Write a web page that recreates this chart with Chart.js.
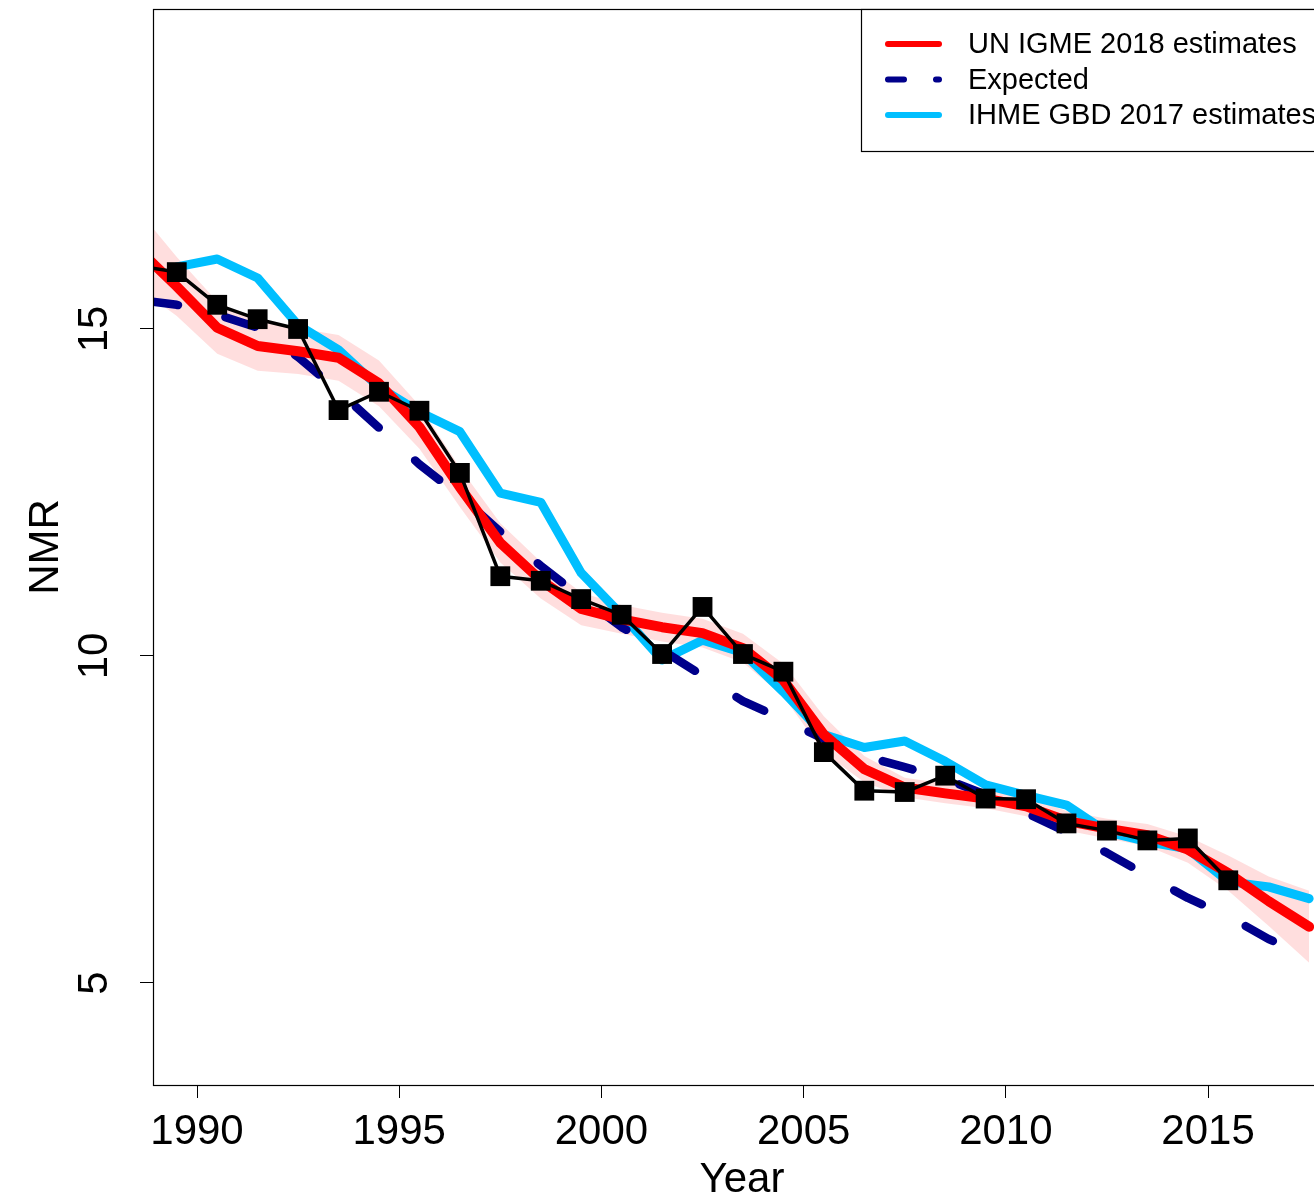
<!DOCTYPE html>
<html>
<head>
<meta charset="utf-8">
<script src="https://cdn.jsdelivr.net/npm/chart.js@4/dist/chart.umd.min.js"></script>
<style>
  html, body { margin: 0; padding: 0; background: #fff; overflow: hidden; }
  #wrap { width: 1314px; height: 1201px; overflow: hidden; }
</style>
</head>
<body>
<div id="wrap"><canvas id="myChart" width="1331" height="1201"></canvas></div>
<script>
// mid-year positions
var midYears = [1988.5, 1989.5, 1990.5, 1991.5, 1992.5, 1993.5, 1994.5, 1995.5, 1996.5, 1997.5,
                1998.5, 1999.5, 2000.5, 2001.5, 2002.5, 2003.5, 2004.5, 2005.5, 2006.5, 2007.5,
                2008.5, 2009.5, 2010.5, 2011.5, 2012.5, 2013.5, 2014.5, 2015.5, 2016.5, 2017.5];

var igme = [16.25, 15.65, 15.02, 14.74, 14.66, 14.56, 14.17, 13.50, 12.58, 11.73,
            11.16, 10.72, 10.56, 10.44, 10.35, 10.12, 9.63, 8.80, 8.27, 7.99,
            7.90, 7.82, 7.70, 7.48, 7.36, 7.26, 7.04, 6.68, 6.25, 5.86];
var igmeUpper = [16.85, 16.10, 15.42, 15.12, 15.01, 14.91, 14.52, 13.83, 12.88, 12.03,
                 11.44, 10.97, 10.78, 10.66, 10.57, 10.34, 9.88, 9.08, 8.47, 8.14,
                 8.05, 7.97, 7.85, 7.63, 7.51, 7.43, 7.24, 6.95, 6.63, 6.41];
var igmeLower = [15.65, 15.20, 14.62, 14.36, 14.31, 14.21, 13.82, 13.17, 12.28, 11.43,
                 10.88, 10.47, 10.34, 10.22, 10.13, 9.90, 9.38, 8.52, 8.07, 7.84,
                 7.75, 7.67, 7.55, 7.33, 7.21, 7.09, 6.84, 6.41, 5.87, 5.31];
var expected = [15.45, 15.37, 15.22, 15.02, 14.57, 14.05, 13.49, 12.93, 12.45, 11.90,
                11.38, 10.90, 10.44, 10.09, 9.70, 9.31, 9.03, 8.73, 8.47, 8.30,
                8.12, 7.88, 7.60, 7.31, 6.99, 6.64, 6.30, 6.02, 5.67, 5.40];
var ihme = [null, 15.95, 16.07, 15.78, 15.06, 14.68, 14.11, 13.73, 13.43, 12.49,
            12.35, 11.27, 10.63, 9.94, 10.24, 10.05, 9.45, 8.80, 8.60, 8.70,
            8.39, 8.03, 7.87, 7.72, 7.31, 7.16, 7.05, 6.55, 6.47, 6.29];
var observed = [15.97, 15.87, 15.37, 15.15, 15.00, 13.76, 14.04, 13.75, 12.80, 11.22,
                11.15, 10.87, 10.63, 10.03, 10.75, 10.03, 9.76, 8.53, 7.94, 7.92,
                8.17, 7.82, 7.81, 7.44, 7.33, 7.18, 7.21, 6.57, null, null];

var xTicks = [1990, 1995, 2000, 2005, 2010, 2015];
var yTicks = [5, 10, 15];
var legendNames = ['UN IGME 2018 estimates', 'Expected', 'IHME GBD 2017 estimates'];

var FONT = "'Liberation Sans', Arial, Helvetica, sans-serif";

function pts(vals) {
  return midYears.map(function(x, i) { return {x: x, y: vals[i]}; });
}

var rBox = {
  id: 'rBox',
  afterDraw: function(chart) {
    var ctx = chart.ctx, a = chart.chartArea;
    ctx.save();
    ctx.strokeStyle = '#000';
    ctx.lineWidth = 1.2;
    ctx.strokeRect(a.left + 0.5, a.top + 0.5, a.right - a.left + 20, a.bottom - a.top);

    // legend, top right
    var w = 470, h = 142;
    var x0 = a.right - w, y0 = a.top;
    ctx.fillStyle = '#fff';
    ctx.fillRect(x0, y0, w, h);
    ctx.strokeRect(x0 + 0.5, y0 + 0.5, w, h);
    var cols = ['#ff0000', '#00008b', '#00bfff'];
    ctx.font = '29px ' + FONT;
    ctx.textBaseline = 'middle';
    ctx.lineCap = 'round';
    for (var i = 0; i < legendNames.length; i++) {
      var y = y0 + 35 + i * 35.5;
      ctx.strokeStyle = cols[i];
      ctx.lineWidth = 6;
      ctx.setLineDash(i === 1 ? [16, 32] : []);
      ctx.beginPath();
      ctx.moveTo(x0 + 27, y);
      ctx.lineTo(x0 + 78, y);
      ctx.stroke();
      ctx.fillStyle = '#000';
      ctx.fillText(legendNames[i], x0 + 107, y + 1);
    }
    ctx.restore();
  }
};

document.addEventListener("DOMContentLoaded", function() {
  var ctx = document.getElementById('myChart').getContext('2d');

  var data = {
    datasets: [
      { label: 'observed', data: pts(observed), borderColor: '#000', borderWidth: 3.5,
        pointStyle: 'rect', pointRadius: 14, pointBackgroundColor: '#000', pointBorderWidth: 0, clip: 0 },
      { label: legendNames[0], data: pts(igme), borderColor: '#ff0000', borderWidth: 10, pointRadius: 0, clip: 0 },
      { label: legendNames[1], data: pts(expected), borderColor: '#00008b', borderWidth: 8.5, pointRadius: 0,
        borderDash: [31, 49], borderDashOffset: -11, clip: 0 },
      { label: legendNames[2], data: pts(ihme), borderColor: '#00bfff', borderWidth: 9, pointRadius: 0, clip: 0 },
      { label: 'upper', data: pts(igmeUpper), borderWidth: 0, borderColor: 'rgba(0,0,0,0)', pointRadius: 0,
        backgroundColor: 'rgba(255,0,0,0.13)', fill: '+1', clip: 0 },
      { label: 'lower', data: pts(igmeLower), borderWidth: 0, borderColor: 'rgba(0,0,0,0)', pointRadius: 0, clip: 0 }
    ]
  };

  var config = {
    type: 'line',
    data: data,
    plugins: [rBox],
    options: {
      responsive: false,
      animation: false,
      devicePixelRatio: 1,
      layout: { autoPadding: false, padding: { top: 9, left: 0, right: 0, bottom: 0 } },
      elements: {
        line: { tension: 0, borderCapStyle: 'round', borderJoinStyle: 'round' }
      },
      plugins: { legend: { display: false }, tooltip: { enabled: false } },
      scales: {
        x: {
          type: 'linear',
          min: 1988.912,
          max: 2018.04,
          afterBuildTicks: function(s) { s.ticks = xTicks.map(function(v) { return {value: v}; }); },
          afterFit: function(s) { s.height = 116; s.paddingLeft = 0; s.paddingRight = 0; },
          border: { display: false },
          grid: { drawOnChartArea: false, drawTicks: true, tickLength: 13, color: '#000', tickColor: '#000', lineWidth: 1 },
          ticks: { color: '#000', font: { family: FONT, size: 42 }, padding: 9, maxRotation: 0, autoSkip: false,
                   callback: function(v) { return String(v); } },
          title: { display: true, text: 'Year', color: '#000', font: { family: FONT, size: 42, lineHeight: 1 }, padding: 0 }
        },
        y: {
          min: 3.44,
          max: 19.893,
          afterBuildTicks: function(s) { s.ticks = yTicks.map(function(v) { return {value: v}; }); },
          afterFit: function(s) { s.width = 153; s.paddingTop = 0; s.paddingBottom = 0; },
          border: { display: false },
          grid: { drawOnChartArea: false, drawTicks: true, tickLength: 13, color: '#000', tickColor: '#000', lineWidth: 1 },
          ticks: { color: '#000', font: { family: FONT, size: 42 }, padding: 21, minRotation: 90, maxRotation: 90,
                   crossAlign: 'center', callback: function(v) { return String(v); } },
          title: { display: true, text: 'NMR', color: '#000', font: { family: FONT, size: 42, lineHeight: 1 },
                   padding: { top: 25, bottom: 0 } }
        }
      }
    }
  };
  var myChart = new Chart(ctx, config);
});
</script>
</body>
</html>
